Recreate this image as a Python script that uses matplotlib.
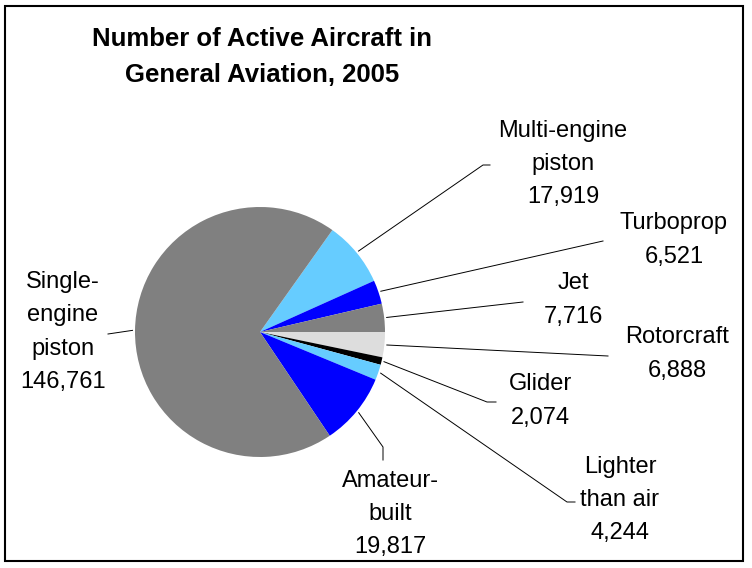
import matplotlib
matplotlib.use("Agg")
import matplotlib.pyplot as plt
from matplotlib.patches import Rectangle
import numpy as np

# data, clockwise from upper right
categories = ["Multi-engine\npiston", "Turboprop", "Jet", "Rotorcraft", "Glider",
              "Lighter\nthan air", "Amateur-\nbuilt", "Single-\nengine\npiston"]
counts = [17919, 6521, 7716, 6888, 2074, 4244, 19817, 146761]
colors = ["#66CCFF", "#0000FF", "#808080", "#DDDDDD", "#000000",
          "#66CCFF", "#0000FF", "#808080"]

# label placement (pixels): text centre, leader elbow points
text_pos = [(563, 164), (674, 240), (573, 300), (677, 354), (540, 401),
            (620, 500), (390, 514), (63, 332)]
leader_pts = [[(483, 165), (490, 165)], [(603, 241)], [(523, 302)], [(608, 356)],
              [(487, 402), (496, 402)], [(567, 502), (575, 502)],
              [(383, 447), (383, 460)], [(108, 334)]]

W, H = 752, 568
cx, cy, R = 260, 332, 125

fig = plt.figure(figsize=(W / 100, H / 100), dpi=100)
fig.patch.set_facecolor("white")
fig.patches.append(Rectangle((5 / W, 7 / H), 738 / W, 555 / H, transform=fig.transFigure,
                             fill=False, edgecolor="black", linewidth=1.5))

ax = fig.add_axes([(cx - R) / W, (H - cy - R) / H, 2 * R / W, 2 * R / H])
total = sum(counts)
# first three slices sit above the horizontal, ending at 3 o'clock
start = 360 * sum(counts[:3]) / total
wedges, _ = ax.pie(counts, colors=colors, startangle=start, counterclock=False,
                   radius=1, wedgeprops=dict(linewidth=0))
ax.set_xlim(-1, 1)
ax.set_ylim(-1, 1)
ax.set_aspect("equal")
ax.axis("off")


def to_data(p):
    return ((p[0] - cx) / R, (cy - p[1]) / R)


font = ["Liberation Sans", "DejaVu Sans"]
for w, name, n, tp, pts in zip(wedges, categories, counts, text_pos, leader_pts):
    ang = np.deg2rad((w.theta1 + w.theta2) / 2)
    xs = [1.02 * np.cos(ang)] + [to_data(p)[0] for p in pts]
    ys = [1.02 * np.sin(ang)] + [to_data(p)[1] for p in pts]
    ax.plot(xs, ys, color="black", lw=0.7, clip_on=False)
    tx, ty = to_data(tp)
    ax.text(tx, ty, f"{name}\n{n:,}", ha="center", va="center", fontsize=17,
            family=font, linespacing=1.65, clip_on=False)

fig.text(262 / W, 1 - 57 / H, "Number of Active Aircraft in\nGeneral Aviation, 2005",
         ha="center", va="center", fontsize=18.5, fontweight="bold",
         family=font, linespacing=1.62)

fig.savefig("out.png", dpi=100)
